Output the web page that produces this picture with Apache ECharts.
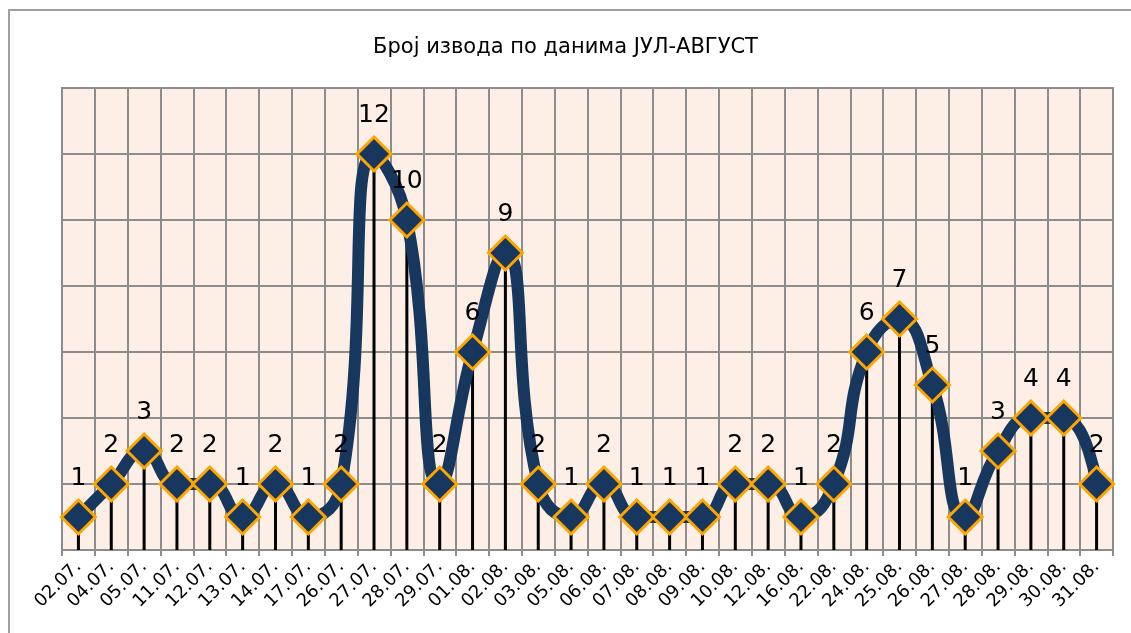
<!DOCTYPE html>
<html lang="sr">
<head>
 <meta charset="UTF-8">
 <title>Број извода</title>
 <style>
  html, body { margin: 0; padding: 0; background: #fff; }
  #frame { position: absolute; left: 8px; top: 9px; width: 1130px; height: 630px; border-left: 2px solid #a0a0a0; border-top: 2px solid #a0a0a0; box-sizing: border-box; }
 </style>
</head>
<body>
 <div id="frame"></div>
 <div id="main" style="position:absolute;left:0;top:0;width:1131px;height:633px;"></div>
 <script src="https://cdn.jsdelivr.net/npm/echarts@6/dist/echarts.min.js"></script>
 <script type="text/javascript">
var days = ['02.07.', '04.07.', '05.07.', '11.07.', '12.07.', '13.07.', '14.07.', '17.07.',
  '26.07.', '27.07.', '28.07.', '29.07.', '01.08.', '02.08.', '03.08.', '05.08.',
  '06.08.', '07.08.', '08.08.', '09.08.', '10.08.', '12.08.', '16.08.', '22.08.',
  '24.08.', '25.08.', '26.08.', '27.08.', '28.08.', '29.08.', '30.08.', '31.08.'];
var counts = [1, 2, 3, 2, 2, 1, 2, 1, 2, 12, 10, 2, 6, 9, 2, 1,
  2, 1, 1, 1, 2, 2, 1, 2, 6, 7, 5, 1, 3, 4, 4, 2];

var myChart = echarts.init(document.getElementById('main'));

myChart.setOption({
    animation: false,
    title: {
        text: 'Број извода по данима ЈУЛ-АВГУСТ',
        left: 'center',
        top: 32,
        textStyle: {
            fontFamily: 'DejaVu Sans',
            fontSize: 21,
            fontWeight: 'normal',
            color: '#000'
        }
    },
    grid: {
        left: 62,
        right: 18,
        top: 88,
        bottom: 83,
        show: true,
        backgroundColor: '#fdeee6',
        borderColor: '#8c8c8c',
        borderWidth: 2
    },
    xAxis: {
        type: 'category',
        data: days,
        boundaryGap: true,
        axisLine: { lineStyle: { color: '#8c8c8c', width: 2 } },
        axisTick: { show: true, interval: 0, length: 6, lineStyle: { color: '#8c8c8c', width: 2 } },
        splitLine: { show: true, interval: 0, lineStyle: { color: '#8c8c8c', width: 2 } },
        axisLabel: {
            interval: 0,
            rotate: 45,
            margin: 14,
            fontFamily: 'DejaVu Sans',
            fontSize: 18,
            color: '#000'
        }
    },
    yAxis: {
        type: 'value',
        min: 0,
        max: 14,
        interval: 2,
        axisLine: { show: false },
        axisTick: { show: false },
        axisLabel: { show: false },
        splitLine: { lineStyle: { color: '#8c8c8c', width: 2 } }
    },
    series: [{
        // drop lines from each point down to the axis
        type: 'bar',
        data: counts,
        barWidth: 3,
        silent: true,
        itemStyle: { color: '#000' }
    }, {
        type: 'line',
        data: counts,
        smooth: 0.5,
        z: 3,
        lineStyle: { color: '#17375e', width: 12 },
        symbol: 'diamond',
        symbolSize: 34,
        itemStyle: { color: '#17375e', borderColor: '#ffa500', borderWidth: 3 },
        label: {
            show: true,
            position: 'top',
            distance: 8,
            fontFamily: 'DejaVu Sans',
            fontSize: 25,
            color: '#000'
        }
    }]
});
 </script>
</body>
</html>
